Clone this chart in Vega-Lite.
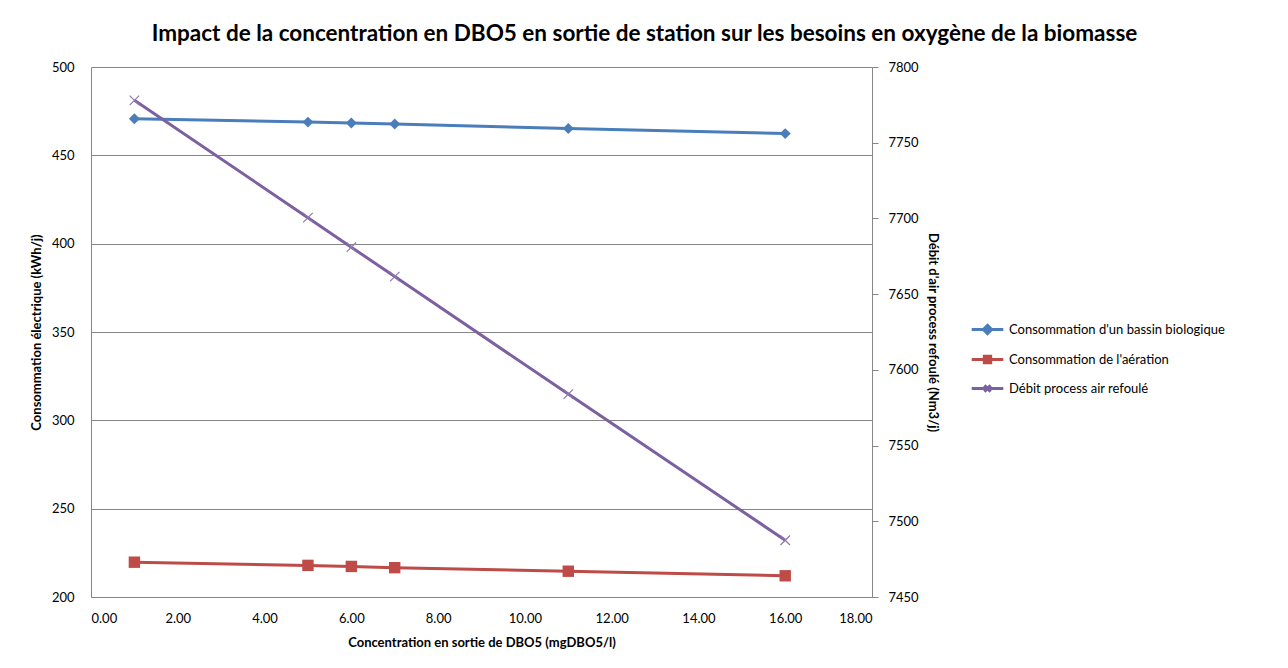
{
  "$schema": "https://vega.github.io/schema/vega-lite/v6.json",
  "autosize": {"type": "none"},
  "width": 781,
  "height": 530,
  "padding": {"left": 91, "top": 67, "right": 416, "bottom": 71},
  "background": "white",
  "config": {
    "font": "Lato",
    "view": {"stroke": null},
    "axis": {
      "domainColor": "#868686",
      "gridColor": "#868686",
      "tickColor": "#868686",
      "labelColor": "#000000",
      "titleColor": "#000000",
      "labelFontSize": 13,
      "titleFontSize": 13,
      "titleFontWeight": "bold",
      "labelFont": "Lato",
      "titleFont": "Lato"
    }
  },
  "title": {
    "text": "Impact de la concentration en DBO5 en sortie de station sur les besoins en oxygène de la biomasse",
    "fontSize": 22.5,
    "fontWeight": "bold",
    "font": "Lato",
    "color": "#000000",
    "anchor": "middle",
    "dx": 163,
    "offset": 16
  },
  "data": {
    "values": [
      {"x": 1, "serie": "Consommation d'un bassin biologique", "value": 470.7},
      {"x": 5, "serie": "Consommation d'un bassin biologique", "value": 468.8},
      {"x": 6, "serie": "Consommation d'un bassin biologique", "value": 468.3},
      {"x": 7, "serie": "Consommation d'un bassin biologique", "value": 467.7},
      {"x": 11, "serie": "Consommation d'un bassin biologique", "value": 465.2},
      {"x": 16, "serie": "Consommation d'un bassin biologique", "value": 462.3},
      {"x": 1, "serie": "Consommation de l'aération", "value": 219.7},
      {"x": 5, "serie": "Consommation de l'aération", "value": 217.9},
      {"x": 6, "serie": "Consommation de l'aération", "value": 217.3},
      {"x": 7, "serie": "Consommation de l'aération", "value": 216.6},
      {"x": 11, "serie": "Consommation de l'aération", "value": 214.6},
      {"x": 16, "serie": "Consommation de l'aération", "value": 212.0},
      {"x": 1, "serie": "Débit process air refoulé", "value": 7778},
      {"x": 5, "serie": "Débit process air refoulé", "value": 7700.5},
      {"x": 6, "serie": "Débit process air refoulé", "value": 7681},
      {"x": 7, "serie": "Débit process air refoulé", "value": 7661.6},
      {"x": 11, "serie": "Débit process air refoulé", "value": 7584},
      {"x": 16, "serie": "Débit process air refoulé", "value": 7487.5}
    ]
  },
  "encoding": {
    "x": {
      "field": "x",
      "type": "quantitative",
      "scale": {"domain": [0, 18], "nice": false},
      "axis": {
        "values": [0, 2, 4, 6, 8, 10, 12, 14, 16, 18],
        "format": ".2f",
        "grid": false,
        "title": "Concentration en sortie de DBO5 (mgDBO5/l)",
        "tickSize": 0,
        "labelPadding": 15,
        "titlePadding": 11
      }
    }
  },
  "layer": [
    {
      "transform": [{"filter": "datum.serie != 'Débit process air refoulé'"}],
      "encoding": {
        "y": {
          "field": "value",
          "type": "quantitative",
          "scale": {"domain": [200, 500], "nice": false},
          "axis": {
            "orient": "left",
            "values": [200, 250, 300, 350, 400, 450, 500],
            "grid": true,
            "title": "Consommation électrique (kWh/j)",
            "tickSize": 0,
            "labelPadding": 17,
            "titlePadding": 8
          }
        }
      },
      "layer": [
        {
          "mark": {"type": "line", "strokeWidth": 3},
          "encoding": {
            "color": {
              "field": "serie",
              "type": "nominal",
              "scale": {
                "domain": ["Consommation d'un bassin biologique", "Consommation de l'aération", "Débit process air refoulé"],
                "range": ["#4A7EBB", "#BE4B48", "#7D60A0"]
              },
              "legend": {
                "orient": "none",
                "legendX": 879,
                "legendY": 245,
                "title": null,
                "symbolType": "stroke",
                "symbolStrokeWidth": 3,
                "symbolSize": 1000,
                "labelFontSize": 13,
                "labelFont": "Lato",
                "labelColor": "#000000",
                "labelLimit": 400,
                "rowPadding": 2,
                "encode": {
                  "symbols": {
                    "update": {
                      "shape": {"signal": "indexof(datum.value, 'bassin') >= 0 ? 'M-1,0L1,0M0,-0.26L0.26,0L0,0.26L-0.26,0Z' : (indexof(datum.value, 'aération') >= 0 ? 'M-1,0L1,0M-0.2,-0.2L0.2,-0.2L0.2,0.2L-0.2,0.2Z' : 'M-1,0L1,0M-0.2,-0.2L0.2,0.2M0.2,-0.2L-0.2,0.2')"},
                      "fill": {"scale": "color", "field": "value"}
                    }
                  }
                }
              }
            }
          }
        },
        {
          "transform": [{"filter": "datum.serie == 'Consommation d\\'un bassin biologique'"}],
          "mark": {"type": "point", "shape": "diamond", "filled": true, "opacity": 1, "size": 120, "color": "#4A7EBB"}
        },
        {
          "transform": [{"filter": "datum.serie == 'Consommation de l\\'aération'"}],
          "mark": {"type": "point", "shape": "square", "filled": true, "opacity": 1, "size": 130, "color": "#BE4B48"}
        }
      ]
    },
    {
      "transform": [{"filter": "datum.serie == 'Débit process air refoulé'"}],
      "encoding": {
        "y": {
          "field": "value",
          "type": "quantitative",
          "scale": {"domain": [7450, 7800], "nice": false},
          "axis": {
            "orient": "right",
            "values": [7450, 7500, 7550, 7600, 7650, 7700, 7750, 7800],
            "format": "d",
            "grid": false,
            "title": "Débit d'air process refoulé (Nm3/j)",
            "tickSize": 6,
            "labelPadding": 10,
            "titlePadding": 7
          }
        }
      },
      "layer": [
        {
          "mark": {"type": "line", "strokeWidth": 3},
          "encoding": {
            "color": {"field": "serie", "type": "nominal"}
          }
        },
        {
          "mark": {"type": "point", "shape": "M-1,-1L1,1M1,-1L-1,1", "filled": false, "opacity": 1, "size": 90, "strokeWidth": 1.2, "color": "#8F78B0"}
        }
      ]
    }
  ],
  "resolve": {"scale": {"y": "independent"}}
}
